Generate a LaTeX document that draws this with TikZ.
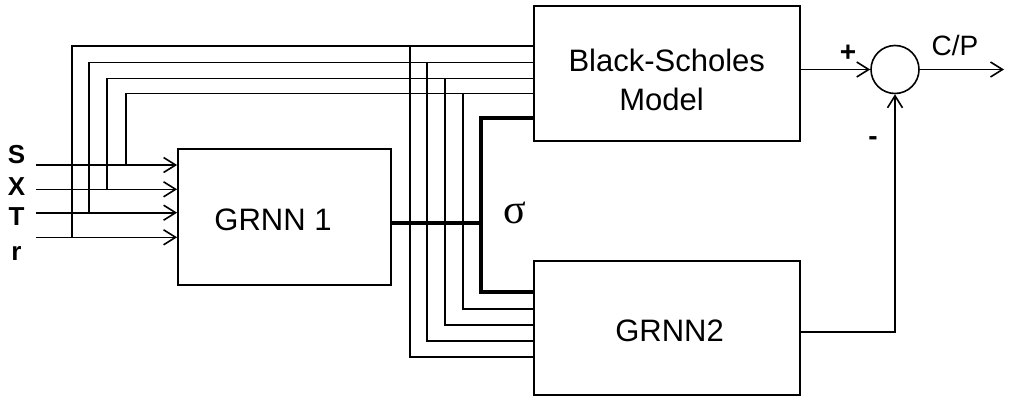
\documentclass[tikz,border=0pt]{standalone}
\usepackage{fontspec}
\setmainfont{Liberation Sans}
\newfontfamily\sigfont{Liberation Serif}
\usetikzlibrary{arrows.meta}
\begin{document}
\begin{tikzpicture}[x=1pt,y=-1pt,
  wire/.style={line width=1.6pt},
  bus/.style={line width=4.2pt},
  arr/.style={wire,-{Straight Barb[length=12pt,width=15pt,line width=1.6pt]}},
  box/.style={draw,line width=1.8pt,inner sep=0pt},
  txt/.style={font=\fontsize{31}{31}\selectfont,anchor=base,inner sep=0pt},
  lbl/.style={font=\bfseries\fontsize{26}{26}\selectfont,anchor=base,inner sep=0pt},
  sgn/.style={font=\bfseries\fontsize{28}{28}\selectfont,anchor=base,inner sep=0pt}]
\useasboundingbox (0,0) rectangle (1009,399);
% boxes
\node[box,minimum width=213pt,minimum height=136pt] (g1) at (284.5,217) {};
\node[box,minimum width=266pt,minimum height=135pt] (bs) at (667,73.5) {};
\node[box,minimum width=266pt,minimum height=134pt] (g2) at (667,328) {};
\node[txt] (g1t) at (273,230) {GRNN 1};
\node[txt] (bst1) at (666.7,71) {Black-Scholes};
\node[txt] (bst2) at (661.5,110) {Model};
\node[txt] (g2t) at (669.5,341) {GRNN2};
% inputs
\foreach \n/\y/\b in {S/165/163, X/189.3/195, T/212.7/225, r/237.3/260}{
  \coordinate (in\n) at (36,\y);
  \node[lbl] (l\n) at (16.5,\b) {\n};
  \draw[arr] (in\n) -- (in\n -| g1.west);
}
% branches to Black-Scholes and GRNN2
\foreach \n/\vx/\hy/\bx/\gy in {S/126/93.3/462.7/308.7, X/107/78.3/444.7/324.7, T/89/62.3/427/340.7, r/72/45.7/410/356.7}{
  \coordinate (j\n) at (in\n -| \vx,0);
  \coordinate (k\n) at (\bx,\hy);
  \draw[wire] (j\n) |- (k\n -| bs.west);
  \draw[wire] (k\n) |- (g2.west |- 0,\gy);
}
% sigma bus
\coordinate (sig) at (481,223.3);
\draw[bus] (g1.east |- sig) -- (sig);
\draw[bus,line join=miter] (bs.west |- 0,117.7) -| (sig) |- (g2.west |- 0,292.3);
\node[font=\sigfont\fontsize{42}{42}\selectfont,inner sep=0pt] (sigma) at (515,213) {σ};
% summing junction
\node[draw,circle,line width=1.6pt,minimum size=48pt,inner sep=0pt] (sum) at (895,69.5) {};
\draw[arr] (bs.east |- sum) -- (sum);
\draw[arr] (g2.east |- 0,331.7) -| (sum.south);
\coordinate (out) at (1004,69.5);
\draw[arr] (sum) -- (out);
\node[sgn] (plus) at (848,61.5) {+};
\node[sgn] (minus) at (873,145) {-};
\node[font=\fontsize{28}{28}\selectfont,anchor=base,inner sep=0pt] (cp) at (955,55) {C/P};
\end{tikzpicture}
\end{document}
